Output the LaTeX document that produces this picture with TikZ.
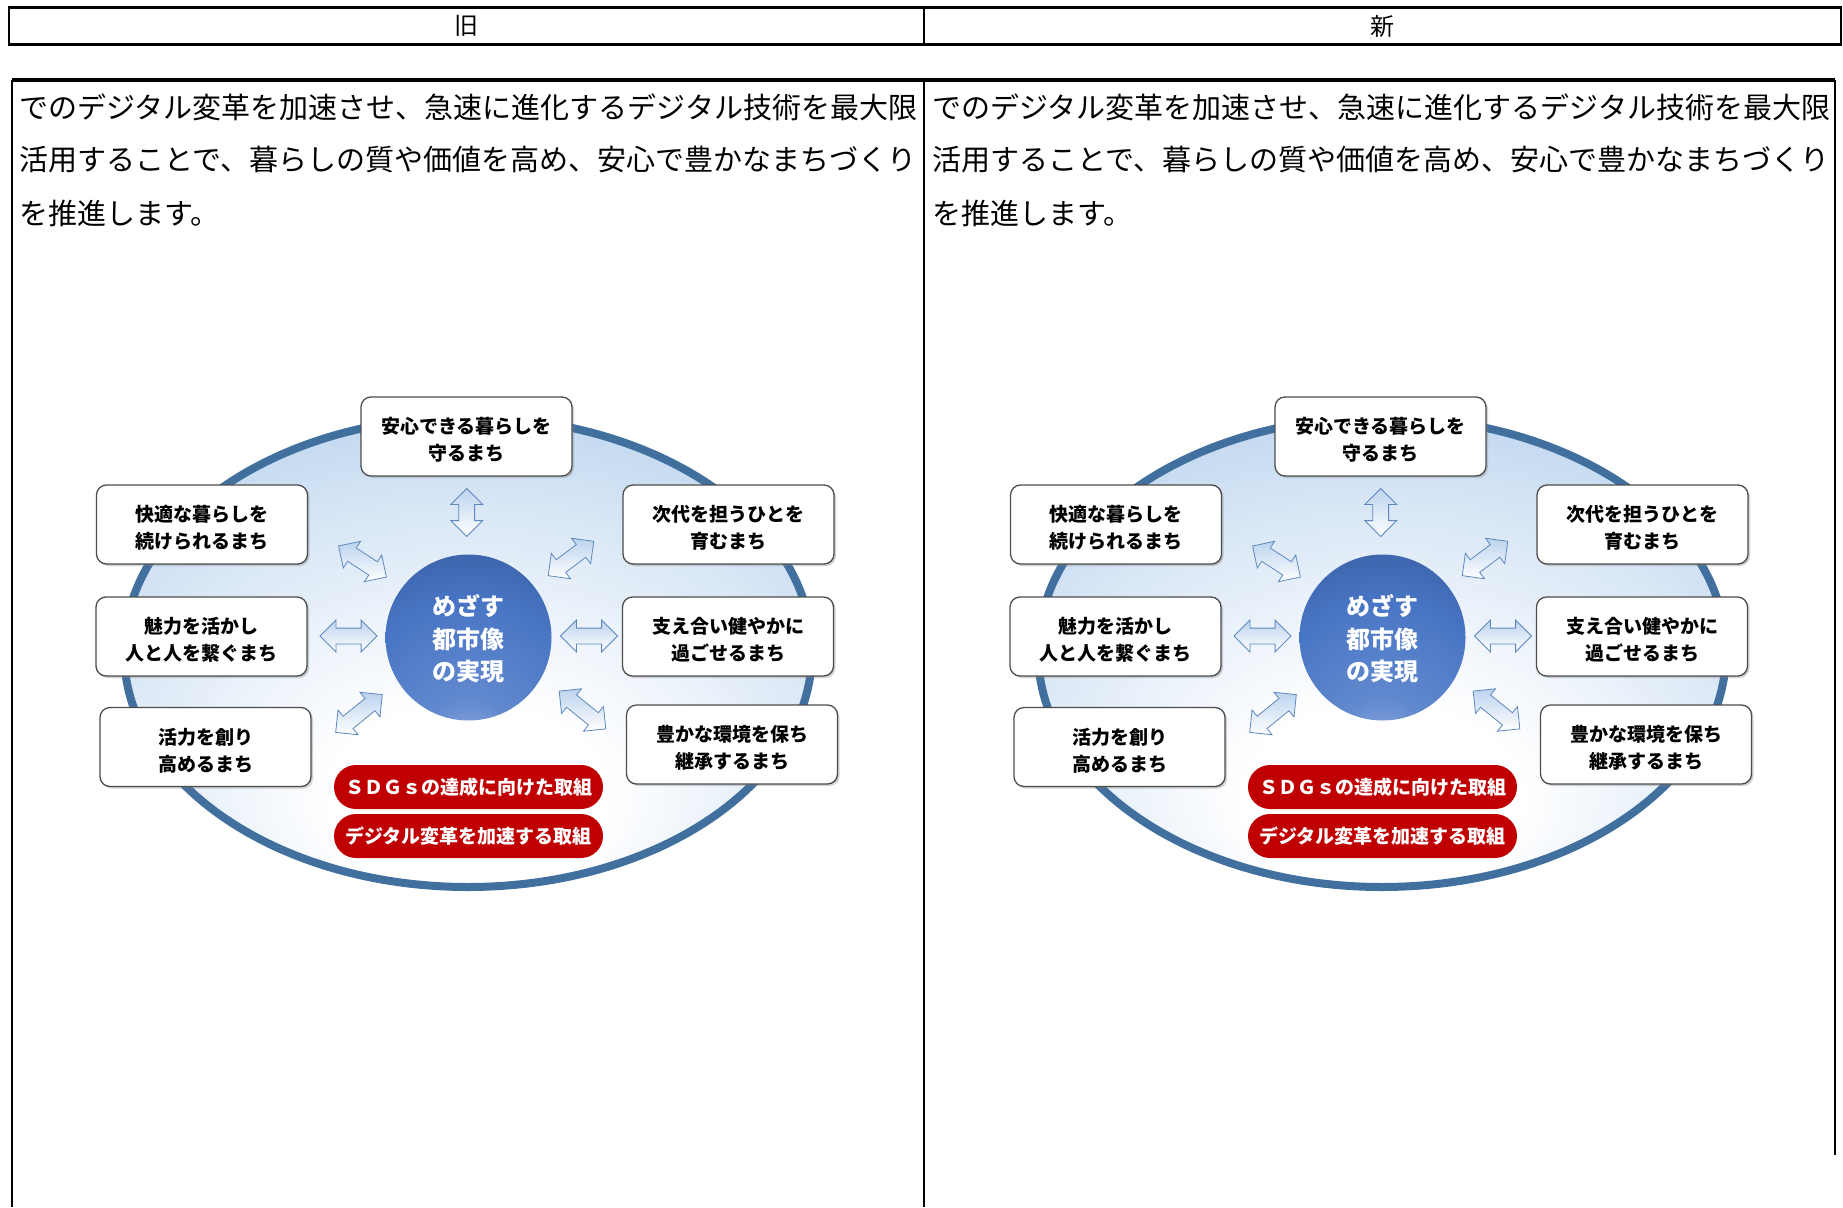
\documentclass[tikz,border=0pt]{standalone}
\usepackage{fontspec}
\newfontfamily\jp{Noto Sans CJK JP}
\usetikzlibrary{shapes.geometric,shapes.arrows,shadows}
\definecolor{ellborder}{HTML}{41709F}
\definecolor{ellout}{HTML}{9EC2E8}
\definecolor{ellmid}{HTML}{D6E5F5}
\definecolor{corelight}{HTML}{9DB8E6}
\definecolor{coremid}{HTML}{4875C4}
\definecolor{coredark}{HTML}{2E4F8E}
\definecolor{pillred}{HTML}{C00000}
\definecolor{arrline}{HTML}{5F88BE}
\definecolor{arrfill}{HTML}{BCD3EE}
\pgfdeclareradialshading{ellshade}{\pgfpoint{0bp}{-18bp}}{color(0bp)=(white);color(10bp)=(white);color(28bp)=(ellmid);color(48bp)=(ellout);color(75bp)=(ellout)}
\pgfdeclareradialshading{coreshade}{\pgfpoint{0bp}{-38bp}}{color(0bp)=(corelight);color(14bp)=(coremid!70!corelight);color(35bp)=(coremid);color(60bp)=(coredark);color(95bp)=(coredark)}
\tikzset{
  citybox/.style={draw=black!70, line width=1.3pt, rounded corners=10pt, fill=white,
    minimum width=211pt, minimum height=79pt, inner sep=0pt,
    drop shadow={shadow xshift=2pt, shadow yshift=-2pt, opacity=0.35},
    label={[boxtext]center:{#1}}},
  boxtext/.style={align=center, inner sep=0pt, yshift=-3.5pt,
    font=\jp\bfseries\fontsize{19}{27}\selectfont},
  pill/.style={fill=pillred, rounded corners=22pt, minimum width=269pt, minimum height=44pt,
    inner sep=0pt, text=white, font=\jp\bfseries\fontsize{19}{19}\selectfont},
  corenode/.style={circle, minimum size=166pt, inner sep=0pt, shading=coreshade,
    label={[coretext]center:{#1}}},
  coretext/.style={text=white, align=center, inner sep=0pt, yshift=-1.5pt,
    font=\jp\bfseries\fontsize{24}{32.5}\selectfont},
  dblarr/.style={double arrow, draw=arrline, line width=0.8pt, minimum width=31pt,
    double arrow head extend=8pt, inner sep=7.5pt, minimum height=57pt,
    shading=axis, top color=arrfill, bottom color=white},
  bodytext/.style={anchor=west, inner sep=0pt, font=\jp\fontsize{29}{29}\selectfont},
  headtext/.style={inner sep=0pt, font=\jp\fontsize{24}{24}\selectfont},
}
\newcommand\mydiagram[2]{%
\begin{scope}[xshift=#2]
\node[ellipse, draw=ellborder, line width=8pt, minimum width=688pt, minimum height=470pt,
  shading=ellshade, inner sep=0pt] (#1ell) at (468,652) {};
\node[corenode={めざす\\都市像\\の実現}] (#1core) at (468.5,637.5) {};
\node[citybox={安心できる暮らしを\\守るまち}] (#1b1) at (466.5,436.5) {};
\node[citybox={快適な暮らしを\\続けられるまち}] (#1b2) at (202,524.5) {};
\node[citybox={次代を担うひとを\\育むまち}] (#1b3) at (728.5,524.5) {};
\node[citybox={魅力を活かし\\人と人を繋ぐまち}] (#1b4) at (201.5,636.5) {};
\node[citybox={支え合い健やかに\\過ごせるまち}] (#1b5) at (728,636.5) {};
\node[citybox={活力を創り\\高めるまち}] (#1b6) at (205.5,747) {};
\node[citybox={豊かな環境を保ち\\継承するまち}] (#1b7) at (732,744.5) {};
\node[pill] (#1p1) at (468.5,787) {ＳＤＧｓの達成に向けた取組};
\node[pill] (#1p2) at (468.5,836) {デジタル変革を加速する取組};
\node[dblarr, rotate=90, minimum height=48pt] (#1a1) at (466.7,512.5) {};
\node[dblarr, rotate=-33] (#1a2) at (362.5,561.5) {};
\node[dblarr, rotate=37] (#1a3) at (571,558.5) {};
\node[dblarr] (#1a4) at (348.5,636) {};
\node[dblarr] (#1a5) at (589,636) {};
\node[dblarr, rotate=39, minimum height=60pt] (#1a6) at (359,713.5) {};
\node[dblarr, rotate=-39, minimum height=60pt] (#1a7) at (582.5,710) {};
\end{scope}}
\begin{document}
\begin{tikzpicture}[x=1pt,y=-1pt]
\useasboundingbox (0,0) rectangle (1843,1207);
\fill[white] (0,0) rectangle (1843,1207);
% header table
\draw[line width=2.3pt] (9,7.5) rectangle (1841,44.5);
\draw[line width=1.5pt] (924,7.5) -- (924,44.5);
\node[headtext] (hold) at (466.5,26) {旧};
\node[headtext] (hnew) at (1382.5,26) {新};
% body table
\draw[line width=3.5pt] (12,80) -- (1835,80);
\draw[line width=1.5pt] (12,80) -- (12,1207);
\draw[line width=1.5pt] (924,80) -- (924,1207);
\draw[line width=1.5pt] (1835,80) -- (1835,1155);
% body text
\node[bodytext] (la) at (19,107) {でのデジタル変革を加速させ、急速に進化するデジタル技術を最大限};
\node[bodytext] (lb) at (19,160) {活用することで、暮らしの質や価値を高め、安心で豊かなまちづくり};
\node[bodytext] (lc) at (19,213) {を推進します。};
\node[bodytext] (ra) at (932,107) {でのデジタル変革を加速させ、急速に進化するデジタル技術を最大限};
\node[bodytext] (rb) at (932,160) {活用することで、暮らしの質や価値を高め、安心で豊かなまちづくり};
\node[bodytext] (rc) at (932,213) {を推進します。};
\mydiagram{L}{0pt}
\mydiagram{R}{914pt}
\end{tikzpicture}
\end{document}
